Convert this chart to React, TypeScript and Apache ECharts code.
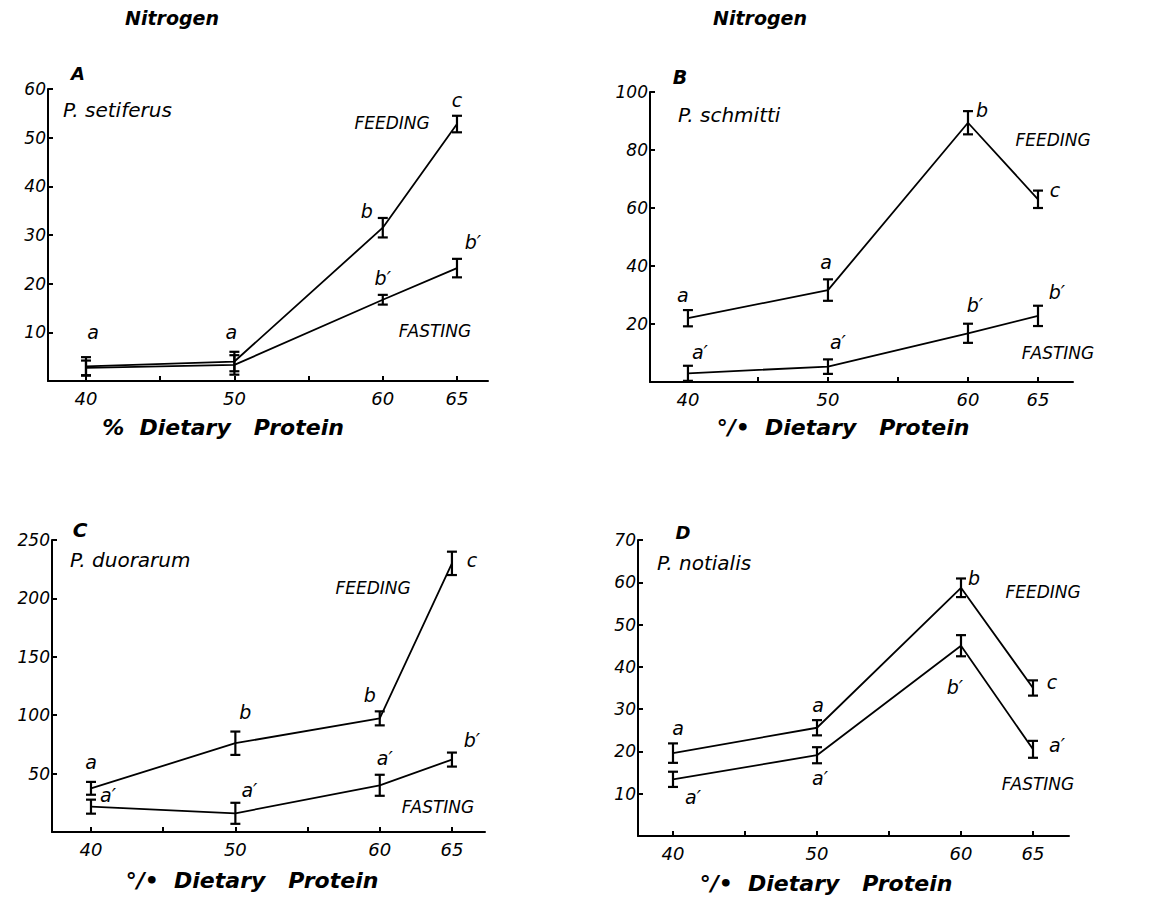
import React, { useEffect, useRef } from "react";
import * as echarts from "echarts";

// ---------- data ----------
const protein = [40, 50, 60, 65];

// Panel A: P. setiferus
const aFeedMean = [3, 4, 31.5, 52.8];
const aFeedErr = [1.9, 2, 2, 1.7];
const aFastMean = [2.7, 3.3, 16.7, 23.2];
const aFastErr = [1.5, 2, 1, 1.9];
const aFeedLetters = ["a", "a", "b", "c"];
const aFastLetters = ["", "", "b′", "b′"];

// Panel B: P. schmitti
const bFeedMean = [22, 31.7, 89.4, 63];
const bFeedErr = [2.8, 3.7, 4, 3];
const bFastMean = [3, 5.3, 16.8, 22.8];
const bFastErr = [2.6, 2.5, 3.3, 3.5];
const bFeedLetters = ["a", "a", "b", "c"];
const bFastLetters = ["a′", "a′", "b′", "b′"];

// Panel C: P. duorarum
const cFeedMean = [37.4, 76, 97.3, 230];
const cFeedErr = [5.5, 10, 6, 10];
const cFastMean = [21.7, 16, 40, 62];
const cFastErr = [6, 9, 9, 6];
const cFeedLetters = ["a", "b", "b", "c"];
const cFastLetters = ["a′", "a′", "a′", "b′"];

// Panel D: P. notialis
const dFeedMean = [19.6, 25.6, 58.7, 35];
const dFeedErr = [2.3, 1.8, 2.2, 1.8];
const dFastMean = [13.4, 19.1, 45, 20.5];
const dFastErr = [1.8, 1.9, 2.5, 2];
const dFeedLetters = ["a", "a", "b", "c"];
const dFastLetters = ["a′", "a′", "b′", "a′"];

const xTickValues = [40, 45, 50, 55, 60, 65];
const xLabelValues = [40, 50, 60, 65];

// ---------- layout / style (not data) ----------
const FONT = "DejaVu Sans";
const panels = [
  {
    grid: { left: 48, top: 89, width: 440, height: 292 },
    xMin: 37.44, xMax: 67.09, yMax: 60, yInt: 10,
    feed: aFeedMean, feedErr: aFeedErr, fast: aFastMean, fastErr: aFastErr,
    feedL: aFeedLetters, fastL: aFastLetters,
    feedOff: [[7, -34], [-3, -30], [-16, -17], [0, -24]],
    fastOff: [[0, 0], [0, 0], [0, -22], [16, -26]],
  },
  {
    grid: { left: 650, top: 92, width: 423, height: 290 },
    xMin: 37.29, xMax: 67.5, yMax: 100, yInt: 20,
    feed: bFeedMean, feedErr: bFeedErr, fast: bFastMean, fastErr: bFastErr,
    feedL: bFeedLetters, fastL: bFastLetters,
    feedOff: [[-5, -23], [-2, -28], [14, -13], [17, -9]],
    fastOff: [[12, -21], [10, -25], [7, -28], [19, -24]],
  },
  {
    grid: { left: 52, top: 540, width: 433, height: 292 },
    xMin: 37.3, xMax: 67.29, yMax: 250, yInt: 50,
    feed: cFeedMean, feedErr: cFeedErr, fast: cFastMean, fastErr: cFastErr,
    feedL: cFeedLetters, fastL: cFastLetters,
    feedOff: [[0, -26], [10, -31], [-10, -23], [20, -3]],
    fastOff: [[17, -12], [14, -23], [5, -27], [20, -20]],
  },
  {
    grid: { left: 638, top: 540, width: 431, height: 296 },
    xMin: 37.57, xMax: 67.5, yMax: 70, yInt: 10,
    feed: dFeedMean, feedErr: dFeedErr, fast: dFastMean, fastErr: dFastErr,
    feedL: dFeedLetters, fastL: dFastLetters,
    feedOff: [[5, -25], [1, -23], [13, -10], [19, -6]],
    fastOff: [[20, 18], [3, 23], [-6, 41], [24, -4]],
  },
];

const texts = [
  { t: "Nitrogen", x: 172, y: 18, size: 19, bold: true, align: "center" },
  { t: "Nitrogen", x: 760, y: 18, size: 19, bold: true, align: "center" },
  { t: "A", x: 78, y: 73, size: 18, bold: true, align: "center" },
  { t: "B", x: 680, y: 77, size: 19, bold: true, align: "center" },
  { t: "C", x: 80, y: 530, size: 20, bold: true, align: "center" },
  { t: "D", x: 683, y: 532, size: 18, bold: true, align: "center" },
  { t: "P. setiferus", x: 63, y: 110, size: 20, align: "left" },
  { t: "P. schmitti", x: 678, y: 115, size: 20, align: "left" },
  { t: "P. duorarum", x: 70, y: 560, size: 20, align: "left" },
  { t: "P. notialis", x: 657, y: 563, size: 20, align: "left" },
  { t: "FEEDING", x: 392, y: 123, size: 17, align: "center" },
  { t: "FASTING", x: 435, y: 331, size: 17, align: "center" },
  { t: "FEEDING", x: 1053, y: 140, size: 17, align: "center" },
  { t: "FASTING", x: 1058, y: 353, size: 17, align: "center" },
  { t: "FEEDING", x: 373, y: 588, size: 17, align: "center" },
  { t: "FASTING", x: 438, y: 807, size: 17, align: "center" },
  { t: "FEEDING", x: 1043, y: 592, size: 17, align: "center" },
  { t: "FASTING", x: 1038, y: 784, size: 17, align: "center" },
  { t: "%  Dietary   Protein", x: 223, y: 427, size: 22, bold: true, align: "center" },
  { t: "°/•  Dietary   Protein", x: 843, y: 427, size: 22, bold: true, align: "center" },
  { t: "°/•  Dietary   Protein", x: 252, y: 880, size: 22, bold: true, align: "center" },
  { t: "°/•  Dietary   Protein", x: 826, y: 883, size: 22, bold: true, align: "center" },
];

function buildOption() {
  const grid: any[] = [];
  const xAxis: any[] = [];
  const yAxis: any[] = [];
  const series: any[] = [];

  panels.forEach((p, i) => {
    grid.push({ ...p.grid, containLabel: false });
    xAxis.push({
      type: "value",
      gridIndex: i,
      min: p.xMin,
      max: p.xMax,
      splitLine: { show: false },
      axisLine: { lineStyle: { color: "#000", width: 2 } },
      axisTick: { inside: true, length: 5, customValues: xTickValues, lineStyle: { color: "#000", width: 2 } },
      axisLabel: {
        customValues: xLabelValues,
        color: "#000",
        fontFamily: FONT,
        fontStyle: "italic",
        fontSize: 18,
        margin: 8,
      },
    });
    yAxis.push({
      type: "value",
      gridIndex: i,
      min: 0,
      max: p.yMax,
      interval: p.yInt,
      splitLine: { show: false },
      axisLine: { show: true, lineStyle: { color: "#000", width: 2 } },
      axisTick: { show: true, inside: true, length: 5, lineStyle: { color: "#000", width: 2 } },
      axisLabel: {
        color: "#000",
        fontFamily: FONT,
        fontStyle: "italic",
        fontSize: 17,
        margin: 2,
        formatter: (v: number) => (v === 0 ? "" : String(v)),
      },
    });

    const groups = [
      { mean: p.feed, err: p.feedErr, letters: p.feedL, off: p.feedOff },
      { mean: p.fast, err: p.fastErr, letters: p.fastL, off: p.fastOff },
    ];
    groups.forEach((g) => {
      series.push({
        type: "line",
        xAxisIndex: i,
        yAxisIndex: i,
        data: protein.map((x, k) => [x, g.mean[k]]),
        symbol: "none",
        lineStyle: { color: "#000", width: 1.8 },
        z: 2,
      });
      series.push({
        type: "custom",
        xAxisIndex: i,
        yAxisIndex: i,
        data: protein.map((x, k) => [x, g.mean[k] - g.err[k], g.mean[k] + g.err[k]]),
        encode: { x: 0, y: [1, 2] },
        renderItem: (params: any, api: any) => {
          const x = api.value(0);
          const top = api.coord([x, api.value(2)]);
          const bot = api.coord([x, api.value(1)]);
          const w = 5;
          const style = { stroke: "#000", lineWidth: 2.2 };
          return {
            type: "group",
            children: [
              { type: "line", shape: { x1: top[0], y1: top[1], x2: bot[0], y2: bot[1] }, style },
              { type: "line", shape: { x1: top[0] - w, y1: top[1], x2: top[0] + w, y2: top[1] }, style },
              { type: "line", shape: { x1: bot[0] - w, y1: bot[1], x2: bot[0] + w, y2: bot[1] }, style },
            ],
          };
        },
        z: 3,
      });
      series.push({
        type: "scatter",
        xAxisIndex: i,
        yAxisIndex: i,
        symbolSize: 0,
        itemStyle: { color: "#000", opacity: 1 },
        data: protein
          .map((x, k) => ({
            value: [x, g.mean[k]],
            label: {
              show: g.letters[k] !== "",
              formatter: g.letters[k],
              position: "inside",
              offset: g.off[k],
              color: "#000",
              opacity: 1,
              textBorderWidth: 0,
              fontFamily: FONT,
              fontStyle: "italic",
              fontSize: 19,
            },
          }))
          .filter((d) => d.label.show),
        z: 4,
      });
    });
  });

  const graphic = texts.map((t) => ({
    type: "text",
    x: t.x,
    y: t.y,
    style: {
      text: t.t,
      fill: "#000",
      font: `italic ${t.bold ? "bold " : ""}${t.size}px "${FONT}"`,
      textAlign: t.align,
      textVerticalAlign: "middle",
    },
  }));

  return {
    animation: false,
    backgroundColor: "#fff",
    grid,
    xAxis,
    yAxis,
    series,
    graphic,
  };
}

export default function App() {
  const ref = useRef<HTMLDivElement>(null);
  useEffect(() => {
    if (!ref.current) return;
    const chart = echarts.init(ref.current, undefined, { renderer: "svg" });
    chart.setOption(buildOption() as any);
    return () => chart.dispose();
  }, []);
  return (
    <div
      ref={ref}
      style={{ position: "fixed", left: 0, top: 0, width: 1156, height: 901, background: "#fff" }}
    />
  );
}
